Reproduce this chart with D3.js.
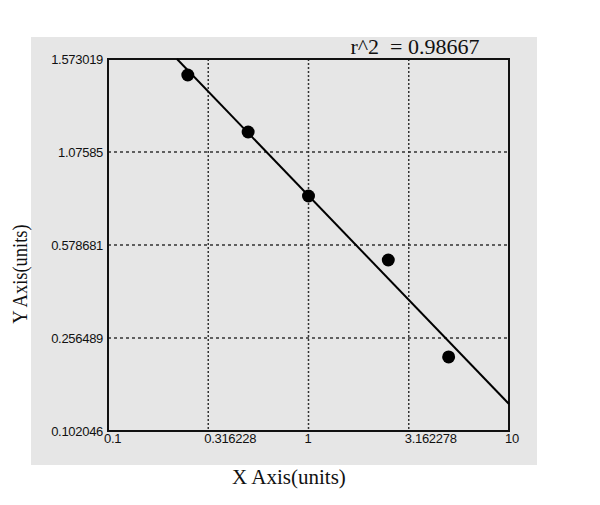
<!DOCTYPE html>
<html>
<head>
<meta charset="utf-8">
<script src="https://cdn.jsdelivr.net/npm/d3@7"></script>
<style>
  html, body { margin: 0; padding: 0; background: #ffffff; }
  svg { display: block; }
</style>
</head>
<body>
<svg id="chart" width="600" height="505"></svg>
<script>
// ---- data ----
const xTicks = [0.1, 0.316228, 1, 3.162278, 10];
const xTickLabels = ["0.1", "0.316228", "1", "3.162278", "10"];
const yTicks = [0.102046, 0.256489, 0.578681, 1.07585, 1.573019];
const yTickLabels = ["0.102046", "0.256489", "0.578681", "1.07585", "1.573019"];
const pointX = [0.25, 0.5, 1, 2.5, 5];
const pointY = [1.4875, 1.1828, 0.8407, 0.5268, 0.2250];
const fitX = [0.2208, 10];
const fitY = [1.573019, 0.1468];
const r2Label = "r^2  = 0.98667";

// ---- layout ----
const svg = d3.select("#chart");
const plot = { left: 108, top: 59, right: 509, bottom: 431 };

svg.append("rect")
  .attr("x", 31).attr("y", 37).attr("width", 506).attr("height", 428)
  .attr("fill", "#e6e6e6");

const x = d3.scaleLog().domain([0.1, 10]).range([plot.left, plot.right]);
// axis gridlines are evenly spaced: piecewise-linear scale through the tick values
const yRange = yTicks.map((d, i) => plot.bottom - i * (plot.bottom - plot.top) / (yTicks.length - 1));
const y = d3.scaleLinear().domain(yTicks).range(yRange);

// gridlines
const g = svg.append("g");
g.selectAll("line.vg").data(xTicks.slice(1, -1)).enter().append("line")
  .attr("x1", d => x(d)).attr("x2", d => x(d))
  .attr("y1", plot.top).attr("y2", plot.bottom)
  .attr("stroke", "#333").attr("stroke-width", 1.5).attr("stroke-dasharray", "2,2");
g.selectAll("line.hg").data(yTicks.slice(1, -1)).enter().append("line")
  .attr("x1", plot.left).attr("x2", plot.right)
  .attr("y1", d => y(d)).attr("y2", d => y(d))
  .attr("stroke", "#333").attr("stroke-width", 1.5).attr("stroke-dasharray", "3,3");

// frame
svg.append("rect")
  .attr("x", plot.left).attr("y", plot.top)
  .attr("width", plot.right - plot.left).attr("height", plot.bottom - plot.top)
  .attr("fill", "none").attr("stroke", "#111").attr("stroke-width", 2);

// fit line
svg.append("line")
  .attr("x1", x(fitX[0])).attr("y1", y(fitY[0]))
  .attr("x2", x(fitX[1])).attr("y2", y(fitY[1]))
  .attr("stroke", "#000").attr("stroke-width", 2);

// points
svg.selectAll("circle.pt").data(pointX).enter().append("circle")
  .attr("cx", d => x(d)).attr("cy", (d, i) => y(pointY[i]))
  .attr("r", 6.5).attr("fill", "#000");

// tick labels
const tickFont = "'Liberation Sans', Arial, sans-serif";
svg.selectAll("text.yt").data(yTicks).enter().append("text")
  .attr("x", plot.left - 5).attr("y", d => y(d))
  .attr("dy", "0.35em")
  .attr("text-anchor", "end")
  .attr("font-family", tickFont).attr("font-size", 13)
  .attr("letter-spacing", "-0.3px")
  .attr("fill", "#111")
  .text((d, i) => yTickLabels[i]);

svg.selectAll("text.xt").data(xTicks).enter().append("text")
  .attr("x", d => x(d) - 4).attr("y", plot.bottom + 12)
  .attr("text-anchor", "start")
  .attr("font-family", tickFont).attr("font-size", 13)
  .attr("letter-spacing", "-0.3px")
  .attr("fill", "#111")
  .text((d, i) => xTickLabels[i]);

// titles
const titleFont = "'Liberation Serif', 'Times New Roman', serif";
svg.append("text")
  .attr("x", 289).attr("y", 484)
  .attr("text-anchor", "middle")
  .attr("font-family", titleFont).attr("font-size", 21)
  .attr("fill", "#111")
  .text("X Axis(units)");

svg.append("text")
  .attr("transform", "translate(27,274) rotate(-90) scale(0.88,1)")
  .attr("text-anchor", "middle")
  .attr("font-family", titleFont).attr("font-size", 21)
  .attr("fill", "#111")
  .text("Y Axis(units)");

svg.append("text")
  .attr("x", 415).attr("y", 54)
  .attr("text-anchor", "middle")
  .attr("font-family", titleFont).attr("font-size", 22)
  .attr("fill", "#111")
  .attr("xml:space", "preserve")
  .style("white-space", "pre")
  .text(r2Label);
</script>
</body>
</html>
